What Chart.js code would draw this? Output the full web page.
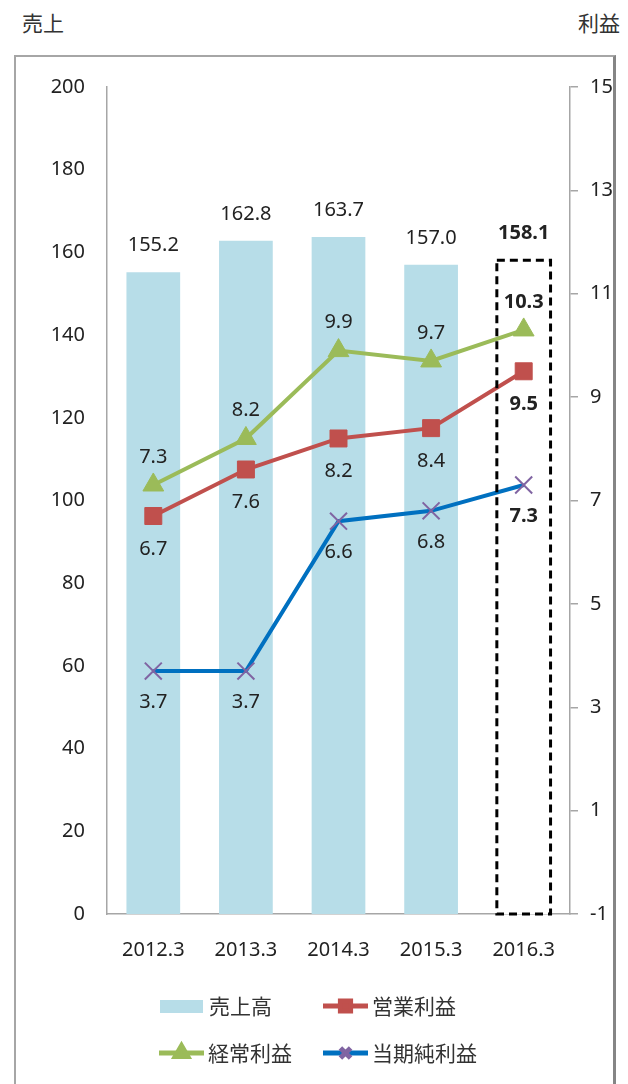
<!DOCTYPE html>
<html lang="ja">
<head>
<meta charset="utf-8">
<script src="https://cdn.jsdelivr.net/npm/chart.js@4.4.1/dist/chart.umd.min.js"></script>
<style>
html, body { margin: 0; padding: 0; background: #fff; }
body { width: 628px; height: 1084px; position: relative; overflow: hidden; font-family: "Noto Sans CJK JP", "Noto Sans", sans-serif; }
#frame { position: absolute; left: 14px; top: 55px; width: 602px; height: 1060px; border: 2px solid #a6a6a6; border-right: 3px solid #858585; box-sizing: border-box; }
.title { position: absolute; top: 7px; font-size: 21px; color: #333; }
#wrap { position: absolute; left: 0; top: 0; width: 628px; height: 1084px; }
</style>
</head>
<body>
<div id="frame"></div>
<div class="title" style="left:22px">売上</div>
<div class="title" style="right:8px">利益</div>
<div id="wrap"><canvas id="chart" width="628" height="1084"></canvas></div>
<script>
const categories = ['2012.3', '2013.3', '2014.3', '2015.3', '2016.3'];
const sales = [155.2, 162.8, 163.7, 157.0, 158.1];
const operatingProfit = [6.7, 7.6, 8.2, 8.4, 9.5];
const ordinaryProfit = [7.3, 8.2, 9.9, 9.7, 10.3];
const netProfit = [3.7, 3.7, 6.6, 6.8, 7.3];
const salesTicks = [0, 20, 40, 60, 80, 100, 120, 140, 160, 180, 200];
const profitTicks = [-1, 1, 3, 5, 7, 9, 11, 13, 15];

const BAR_BLUE = '#b7dde8';
const RED = '#c0504d';
const GREEN = '#9bbb59';
const BLUE = '#0070c0';
const PURPLE = '#8064a2';
const AXIS_GREY = '#a6a6a6';
const NUM_FONT = "'Noto Sans', 'Liberation Sans', sans-serif";
const JP_FONT = "'Noto Sans CJK JP', 'Noto Sans', sans-serif";

Chart.defaults.font.family = NUM_FONT;
Chart.defaults.color = '#222';

const lastIdx = categories.length - 1;

// value labels next to bars and points
const valueLabels = {
  id: 'valueLabels',
  afterDatasetsDraw(chart) {
    const ctx = chart.ctx;
    const offsets = [-27, 33, -28, 31];
    ctx.save();
    ctx.textAlign = 'center';
    ctx.textBaseline = 'middle';
    ctx.fillStyle = '#222';
    chart.data.datasets.forEach((ds, di) => {
      const meta = chart.getDatasetMeta(di);
      meta.data.forEach((el, i) => {
        ctx.font = (i === lastIdx ? 'bold ' : '') + '20px ' + NUM_FONT;
        ctx.fillText(ds.data[i].toFixed(1), el.x, el.y + offsets[di]);
      });
    });
    ctx.restore();
  }
};

// dashed outline around the latest (forecast) bar
const dashedBar = {
  id: 'dashedBar',
  afterDatasetsDraw(chart) {
    const el = chart.getDatasetMeta(0).data[lastIdx];
    const ctx = chart.ctx;
    ctx.save();
    ctx.setLineDash([8, 5]);
    ctx.lineWidth = 3;
    ctx.strokeStyle = '#000';
    ctx.strokeRect(el.x - el.width / 2, el.y, el.width, el.base - el.y);
    ctx.restore();
  }
};

// two-row legend under the axis
const legendRows = {
  id: 'legendRows',
  afterDraw(chart) {
    const ctx = chart.ctx;
    const items = [
      { ds: 0, x: 160, y: 1006 },
      { ds: 1, x: 323, y: 1006 },
      { ds: 2, x: 159, y: 1053 },
      { ds: 3, x: 323, y: 1053 }
    ];
    ctx.save();
    items.forEach((it) => {
      const ds = chart.data.datasets[it.ds];
      if (ds.type === 'bar') {
        ctx.fillStyle = BAR_BLUE;
        ctx.fillRect(it.x, it.y - 6, 43, 13);
      } else {
        ctx.strokeStyle = ds.borderColor;
        ctx.lineWidth = 5;
        ctx.beginPath();
        ctx.moveTo(it.x, it.y);
        ctx.lineTo(it.x + 45, it.y);
        ctx.stroke();
        ctx.fillStyle = ds.pointBackgroundColor;
        ctx.strokeStyle = ds.pointBorderColor;
        Chart.helpers.drawPoint(ctx, {
          pointStyle: ds.pointStyle,
          radius: ds.pointRadius * 0.6,
          borderWidth: ds.pointStyle === 'crossRot' ? 1 : ds.pointBorderWidth,
          rotation: 0
        }, it.x + 22.5, it.y);
      }
      ctx.fillStyle = '#333';
      ctx.font = '21px ' + JP_FONT;
      ctx.textAlign = 'left';
      ctx.textBaseline = 'middle';
      ctx.fillText(ds.label, it.x + 49, it.y);
    });
    ctx.restore();
  }
};

new Chart(document.getElementById('chart'), {
  data: {
    labels: categories,
    datasets: [
      {
        type: 'bar',
        label: '売上高',
        data: sales,
        yAxisID: 'y',
        order: 5,
        backgroundColor: sales.map((v, i) => i === lastIdx ? '#ffffff' : BAR_BLUE),
        borderWidth: 0,
        barPercentage: 0.58,
        categoryPercentage: 1
      },
      {
        type: 'line',
        label: '営業利益',
        data: operatingProfit,
        yAxisID: 'y1',
        order: 2,
        borderColor: RED,
        borderWidth: 4,
        tension: 0,
        pointStyle: 'rect',
        pointRadius: 12,
        pointBackgroundColor: RED,
        pointBorderColor: RED,
        pointBorderWidth: 1
      },
      {
        type: 'line',
        label: '経常利益',
        data: ordinaryProfit,
        yAxisID: 'y1',
        order: 3,
        borderColor: GREEN,
        borderWidth: 4,
        tension: 0,
        pointStyle: 'triangle',
        pointRadius: 12,
        pointBackgroundColor: GREEN,
        pointBorderColor: GREEN,
        pointBorderWidth: 1
      },
      {
        type: 'line',
        label: '当期純利益',
        data: netProfit,
        yAxisID: 'y1',
        order: 1,
        borderColor: BLUE,
        borderWidth: 4,
        tension: 0,
        pointStyle: 'crossRot',
        pointRadius: 12,
        pointBackgroundColor: PURPLE,
        pointBorderColor: PURPLE,
        pointBorderWidth: 2
      }
    ]
  },
  options: {
    responsive: false,
    animation: false,
    devicePixelRatio: 1,
    layout: { padding: { top: 87, left: 0, right: 0, bottom: 110 } },
    plugins: { legend: { display: false }, tooltip: { enabled: false } },
    scales: {
      x: {
        offset: true,
        grid: { display: false },
        border: { display: true, color: AXIS_GREY, width: 1.5 },
        ticks: { padding: 16, color: '#222', font: { size: 20 } },
        afterFit: (s) => { s.height = 60; }
      },
      y: {
        position: 'left',
        min: 0,
        max: 200,
        afterBuildTicks: (s) => { s.ticks = salesTicks.map((v) => ({ value: v })); },
        grid: { display: false },
        border: { display: true, color: AXIS_GREY, width: 1.5 },
        ticks: { padding: 14, color: '#222', font: { size: 20 } },
        afterFit: (s) => { s.width = 107; }
      },
      y1: {
        position: 'right',
        min: -1,
        max: 15,
        afterBuildTicks: (s) => { s.ticks = profitTicks.map((v) => ({ value: v })); },
        grid: { drawOnChartArea: false, drawTicks: true, tickLength: 8, color: AXIS_GREY, tickColor: AXIS_GREY, lineWidth: 1.5 },
        border: { display: true, color: AXIS_GREY, width: 1.5 },
        ticks: { padding: 12, color: '#222', font: { size: 20 } },
        afterFit: (s) => { s.width = 58; }
      }
    }
  },
  plugins: [valueLabels, dashedBar, legendRows]
});
</script>
</body>
</html>
